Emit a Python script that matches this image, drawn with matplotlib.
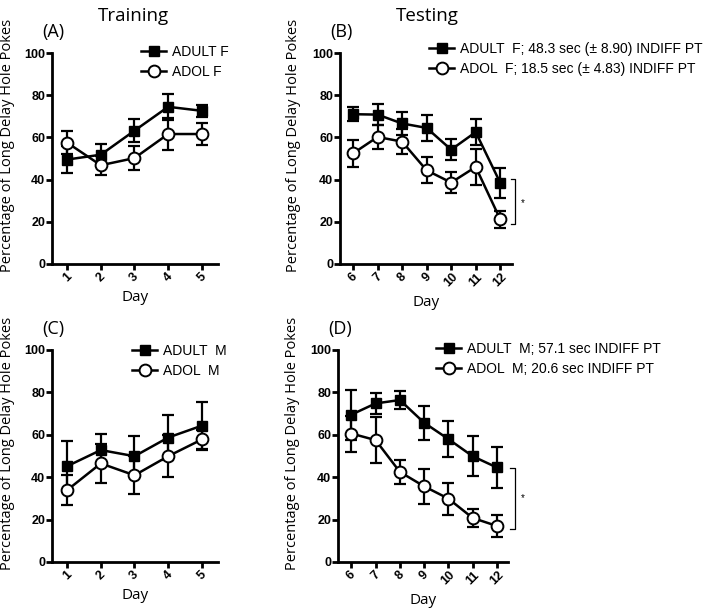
import matplotlib
matplotlib.use("Agg")
import matplotlib.pyplot as plt

# ---- data ----
train_days = [1, 2, 3, 4, 5]
test_days = [6, 7, 8, 9, 10, 11, 12]

# (A) training, females
adult_f_train = [49.5, 51.8, 63.2, 74.5, 72.6]
adult_f_train_err = [6.5, 5.0, 5.5, 6.3, 2.7]
adol_f_train = [57.5, 46.8, 50.2, 61.6, 61.6]
adol_f_train_err = [5.5, 4.4, 5.8, 7.6, 5.0]

# (B) testing, females
adult_f_test = [71.0, 70.8, 66.6, 64.5, 54.2, 62.5, 38.5]
adult_f_test_err = [3.4, 5.0, 5.4, 6.0, 5.0, 6.0, 7.0]
adol_f_test = [52.4, 60.2, 58.0, 44.4, 38.6, 46.0, 21.2]
adol_f_test_err = [6.3, 5.6, 6.0, 6.2, 5.0, 8.5, 4.0]

# (C) training, males
adult_m_train = [45.2, 52.8, 49.9, 58.7, 64.3]
adult_m_train_err = [12.0, 7.5, 9.5, 10.6, 11.3]
adol_m_train = [33.9, 46.5, 40.9, 49.9, 57.8]
adol_m_train_err = [7.0, 9.2, 9.0, 9.8, 4.4]

# (D) testing, males
adult_m_test = [69.5, 74.8, 76.4, 65.7, 58.0, 49.9, 44.6]
adult_m_test_err = [11.8, 5.0, 4.4, 8.1, 8.3, 9.4, 9.5]
adol_m_test = [60.6, 57.5, 42.5, 35.7, 29.9, 20.8, 17.0]
adol_m_test_err = [8.5, 10.8, 5.5, 8.4, 7.5, 4.4, 5.2]

W, H = 714, 610
fig = plt.figure(figsize=(W / 100, H / 100), dpi=100)

def px_rect(l, t, r, b):
    return [l / W, 1 - b / H, (r - l) / W, (b - t) / H]

tick_font = dict(family="Liberation Sans", weight="bold", size=9)
label_font = "Open Sans"

def make_panel(rect, days, adult, adult_err, adol, adol_err, xlim, names, letter, leg_pos):
    ax = fig.add_axes(px_rect(*rect))
    ax.errorbar(days, adult, yerr=adult_err, fmt="none", ecolor="black",
                elinewidth=1.6, capsize=4, capthick=1.6, zorder=2)
    ax.errorbar(days, adol, yerr=adol_err, fmt="none", ecolor="black",
                elinewidth=1.6, capsize=4, capthick=1.6, zorder=2)
    h1, = ax.plot(days, adult, color="black", lw=1.8, marker="s", ms=7.5,
                  mfc="black", mec="black", zorder=3)
    h2, = ax.plot(days, adol, color="black", lw=1.8, marker="o", ms=8.5,
                  mfc="white", mec="black", mew=1.4, zorder=4)
    ax.set_xlim(*xlim)
    ax.set_ylim(0, 100)
    ax.set_yticks([0, 20, 40, 60, 80, 100])
    ax.set_xticks(days)
    ax.set_xticklabels([str(d) for d in days], rotation=45, ha="center",
                       va="top", **tick_font)
    ax.set_yticklabels(["0", "20", "40", "60", "80", "100"], **tick_font)
    for s in ["top", "right"]:
        ax.spines[s].set_visible(False)
    for s in ["left", "bottom"]:
        ax.spines[s].set_linewidth(2.0)
    ax.tick_params(axis="both", width=2.0, length=4, pad=1, color="black")
    ax.set_xlabel("Day", family=label_font, size=11, labelpad=4)
    ax.set_ylabel("Percentage of Long Delay Hole Pokes", family=label_font, size=10.5)
    ax.yaxis.set_label_coords(-0.225, 0.56)
    ax.text(0.01, 1.1, letter, transform=ax.transAxes, family=label_font,
            size=13, ha="center", va="center")
    ax.legend([h1, h2], names, loc="upper left",
              bbox_to_anchor=(leg_pos[0] / W, 1 - leg_pos[1] / H),
              bbox_transform=fig.transFigure, frameon=False, borderpad=0,
              borderaxespad=0, handlelength=1.8, handletextpad=0.45,
              labelspacing=0.42, prop=dict(family="Liberation Sans", size=10))
    return ax

axA = make_panel((52, 53, 218, 264), train_days, adult_f_train, adult_f_train_err,
                 adol_f_train, adol_f_train_err, (0.55, 5.48),
                 ["ADULT F", "ADOL F"], "(A)", (141, 45))
axB = make_panel((340, 53, 512, 264), test_days, adult_f_test, adult_f_test_err,
                 adol_f_test, adol_f_test_err, (5.47, 12.48),
                 ["ADULT  F; 48.3 sec (\u00b1 8.90) INDIFF PT",
                  "ADOL  F; 18.5 sec (\u00b1 4.83) INDIFF PT"], "(B)", (429, 42))
axC = make_panel((52, 350, 218, 562), train_days, adult_m_train, adult_m_train_err,
                 adol_m_train, adol_m_train_err, (0.55, 5.48),
                 ["ADULT  M", "ADOL  M"], "(C)", (132, 344))
axD = make_panel((338, 350, 508, 562), test_days, adult_m_test, adult_m_test_err,
                 adol_m_test, adol_m_test_err, (5.45, 12.46),
                 ["ADULT  M; 57.1 sec INDIFF PT", "ADOL  M; 20.6 sec INDIFF PT"],
                 "(D)", (436, 342))

# significance brackets
def bracket(ax, x0, x1, y0, y1, xs, ys):
    ax.plot([x0, x1, x1, x0], [y1, y1, y0, y0], color="black", lw=0.9,
            clip_on=False)
    ax.text(xs, ys, "*", ha="center", va="center", size=7,
            family="Liberation Sans", clip_on=False)

bracket(axB, 12.45, 12.62, 18.9, 40.2, 12.9, 29.0)
bracket(axD, 12.55, 12.76, 15.4, 44.3, 13.07, 30.0)

fig.text(133 / W, 1 - 16 / H, "Training", family=label_font, size=13.5,
         ha="center", va="center")
fig.text(427 / W, 1 - 16 / H, "Testing", family=label_font, size=13.5,
         ha="center", va="center")

fig.savefig("out.png", dpi=100)
